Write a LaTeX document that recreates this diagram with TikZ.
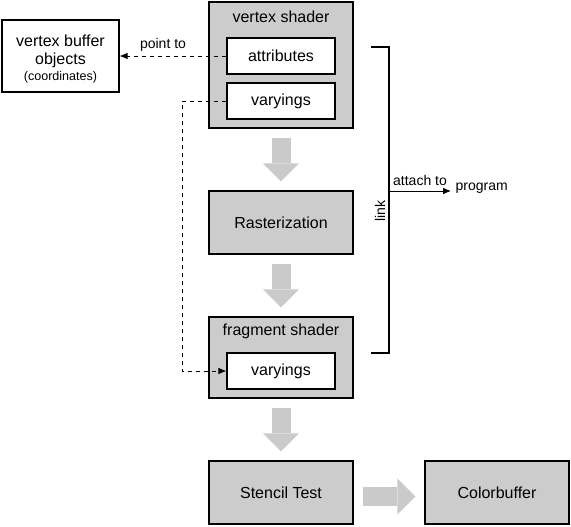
\documentclass[tikz,border=0pt]{standalone}
\usepackage{fontspec}
\setmainfont{Liberation Sans}
\usetikzlibrary{arrows.meta}

\definecolor{boxgray}{HTML}{CCCCCC}
\definecolor{arrowgray}{HTML}{CACACA}

\tikzset{
  stage/.style={draw, line width=0.8pt, fill=boxgray, minimum width=108pt, minimum height=47.25pt},
  slot/.style={draw, line width=0.8pt, fill=white, minimum width=81pt, minimum height=27pt},
  side/.style={font=\fontsize{10.5}{12}\selectfont},
  blockarrow/.style={draw=arrowgray, line width=14.25pt, -{Triangle[length=13.5pt, width=27pt, line width=0pt]}},
  pointer/.style={line width=0.7pt, -{Latex[length=6pt, width=5pt]}},
}

\begin{document}
\begin{tikzpicture}[x=0.75pt, y=-0.75pt, font=\fontsize{12}{13.5}\selectfont]
    \useasboundingbox (0,0) rectangle (571,526);

    % vertex shader
    \node[stage, minimum height=94.5pt] (vs) at (281,65) {};
    \node (vstitle) at (281,16.5) {vertex shader};
    \node[slot] (attr) at (281,56) {attributes};
    \node[slot] (vvary) at (281,101) {varyings};

    % buffer objects
    \node[draw, line width=0.8pt, minimum width=87.75pt, minimum height=54pt] (vbo) at (60.5,56) {};
    \node[align=center] (vbotext) at (60.5,59)
        {vertex buffer\\objects\\[-1.5pt]{\fontsize{9.4}{11}\selectfont (coordinates)}};
    \draw[pointer, dashed] (attr.west) -- (vbo.east) node[midway, above, xshift=-7.5pt, side] (ptto) {point to};

    % rasterization and fragment shader
    \node[stage] (ras) at (281,222.5) {Rasterization};
    \node[stage, minimum height=60.75pt] (fs) at (281,357.5) {};
    \node (fstitle) at (281,331) {fragment shader};
    \node[slot] (fvary) at (281,371) {varyings};
    \draw[pointer, dashed] (vvary.west) -- ++(-44,0) |- (fvary.west);

    % output
    \node[stage] (st) at (281,492.5) {Stencil Test};
    \node[stage] (cb) at (497,492.5) {Colorbuffer};

    % big gray arrows
    \foreach \a/\b in {vs/ras, ras/fs, fs/st}
        \draw[blockarrow] ([yshift=-6.75pt]\a.south) -- ([yshift=6.75pt]\b.north);
    \draw[blockarrow] ([xshift=6.75pt, yshift=-3pt]st.east) -- ([xshift=-6.75pt, yshift=-3pt]cb.west);

    % link to program
    \coordinate (ltop) at (371,47);
    \coordinate (lbot) at (371,353);
    \coordinate (lmid) at (389,191);
    \draw[line width=0.9pt] (ltop) -- ++(18,0) |- (lbot);
    \node[side, rotate=90] (lnk) at (380,211) {link};
    \node[side, anchor=west] (prog) at (451,188) {program};
    \draw[pointer] (lmid) -- (prog.west |- lmid) node[midway, above, side] (att) {attach to};
\end{tikzpicture}
\end{document}
